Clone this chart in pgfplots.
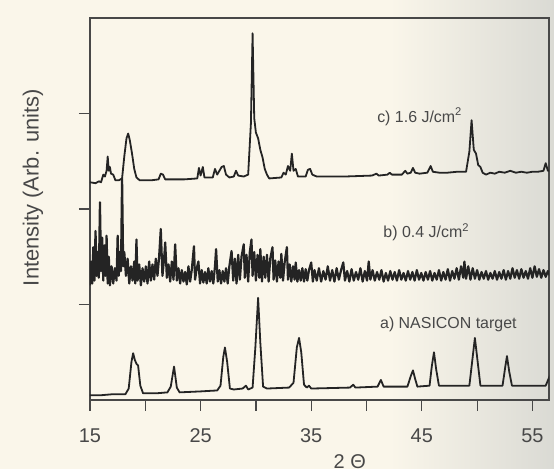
\documentclass[border=0pt]{standalone}
\usepackage{pgfplots}
\pgfplotsset{compat=1.18}
\usepackage{pgfplotstable}
\usepackage{fontspec}
\setmainfont{Liberation Sans}

\definecolor{paper}{RGB}{250,246,234}
\definecolor{paperedge}{RGB}{218,218,212}
\definecolor{trace}{RGB}{36,36,36}
\definecolor{ink}{RGB}{72,72,72}

% a) NASICON target
\pgfplotstableread{
x y
15.0 0.05
16.0 0.05
17.0 0.06
18.2 0.06
18.5 0.12
18.75 0.40
18.9 0.49
19.05 0.42
19.2 0.38
19.35 0.36
19.55 0.15
19.8 0.07
21.0 0.07
22.0 0.08
22.3 0.14
22.6 0.35
22.85 0.13
23.1 0.08
25.0 0.09
26.5 0.10
26.8 0.15
27.05 0.45
27.2 0.55
27.4 0.40
27.65 0.12
28.0 0.11
28.8 0.12
29.1 0.15
29.3 0.11
29.7 0.13
29.95 0.55
30.2 1.07
30.4 0.60
30.65 0.14
31.0 0.12
33.0 0.13
33.4 0.18
33.7 0.55
33.9 0.65
34.1 0.50
34.35 0.16
34.6 0.13
34.8 0.15
35.0 0.12
38.5 0.13
38.8 0.16
39.0 0.13
41.0 0.14
41.3 0.21
41.55 0.14
43.7 0.14
44.0 0.25
44.2 0.31
44.4 0.22
44.6 0.14
45.7 0.15
45.9 0.35
46.1 0.50
46.3 0.32
46.55 0.15
49.3 0.15
49.6 0.45
49.8 0.65
50.0 0.45
50.3 0.15
52.3 0.15
52.55 0.35
52.7 0.46
52.9 0.30
53.15 0.15
56.2 0.15
56.6 0.26
57.0 0.30
}\targetdata

% b) 0.4 J/cm2
\pgfplotstableread{
x y
15.0 1.20
15.1 1.45
15.2 1.22
15.3 1.60
15.4 1.25
15.5 1.77
15.6 1.30
15.7 1.55
15.8 1.28
15.9 2.07
16.0 1.35
16.1 1.70
16.2 1.25
16.3 1.62
16.4 1.30
16.5 1.72
16.6 1.22
16.7 1.50
16.8 1.20
16.95 1.40
17.1 1.22
17.25 1.38
17.4 1.25
17.5 1.72
17.6 1.30
17.7 1.55
17.8 1.35
17.9 2.32
18.0 1.40
18.1 1.55
18.25 1.30
18.4 1.48
18.55 1.22
18.7 1.40
18.85 1.25
19.0 1.45
19.1 1.22
19.2 1.68
19.3 1.25
19.45 1.42
19.6 1.20
19.75 1.38
19.9 1.24
20.05 1.40
20.2 1.22
20.35 1.45
20.5 1.25
20.65 1.42
20.8 1.26
20.95 1.48
21.1 1.30
21.25 1.50
21.4 1.79
21.55 1.30
21.7 1.48
21.8 1.65
21.95 1.28
22.1 1.42
22.25 1.24
22.4 1.45
22.55 1.26
22.7 1.63
22.85 1.25
23.0 1.38
23.15 1.22
23.3 1.36
23.45 1.24
23.6 1.34
23.75 1.21
23.9 1.40
24.05 1.24
24.2 1.36
24.4 1.61
24.5 1.26
24.65 1.38
24.8 1.45
24.95 1.22
25.1 1.36
25.25 1.23
25.4 1.34
25.55 1.22
25.7 1.38
25.85 1.24
26.0 1.35
26.15 1.22
26.3 1.40
26.4 1.58
26.55 1.24
26.7 1.36
26.85 1.22
27.0 1.35
27.15 1.24
27.3 1.38
27.45 1.22
27.6 1.40
27.8 1.56
27.95 1.25
28.1 1.48
28.25 1.22
28.4 1.52
28.55 1.26
28.7 1.50
28.9 1.63
29.0 1.28
29.15 1.52
29.3 1.24
29.45 1.55
29.6 1.68
29.7 1.30
29.85 1.55
30.0 1.25
30.15 1.52
30.3 1.28
30.4 1.58
30.55 1.24
30.7 1.50
30.85 1.28
31.0 1.52
31.15 1.24
31.3 1.48
31.5 1.60
31.6 1.26
31.75 1.46
31.9 1.24
32.05 1.45
32.2 1.28
32.3 1.53
32.45 1.25
32.6 1.44
32.8 1.60
32.9 1.26
33.05 1.42
33.2 1.24
33.35 1.40
33.5 1.26
33.6 1.44
33.75 1.24
33.9 1.36
34.05 1.25
34.2 1.38
34.35 1.24
34.5 1.37
34.65 1.25
34.8 1.36
35.0 1.44
35.15 1.24
35.3 1.36
35.5 1.25
35.7 1.38
35.9 1.24
36.1 1.35
36.3 1.26
36.5 1.40
36.7 1.25
36.9 1.36
37.1 1.24
37.3 1.38
37.5 1.26
37.7 1.36
37.9 1.44
38.05 1.25
38.25 1.35
38.45 1.24
38.65 1.37
38.85 1.25
39.05 1.34
39.25 1.26
39.45 1.38
39.65 1.24
39.85 1.35
40.05 1.25
40.2 1.45
40.35 1.26
40.55 1.36
40.75 1.25
40.95 1.34
41.15 1.26
41.35 1.36
41.55 1.24
41.75 1.33
41.95 1.25
42.15 1.35
42.35 1.26
42.55 1.34
42.75 1.25
42.95 1.36
43.15 1.26
43.35 1.33
43.55 1.25
43.75 1.35
43.95 1.26
44.15 1.34
44.35 1.25
44.55 1.36
44.75 1.26
44.95 1.33
45.15 1.25
45.35 1.34
45.55 1.26
45.75 1.35
45.95 1.25
46.15 1.33
46.35 1.26
46.55 1.36
46.75 1.25
46.95 1.34
47.15 1.26
47.35 1.37
47.55 1.25
47.75 1.35
47.95 1.27
48.15 1.38
48.35 1.26
48.55 1.40
48.75 1.28
48.85 1.45
49.0 1.27
49.2 1.40
49.4 1.26
49.6 1.38
49.8 1.27
50.0 1.36
50.2 1.26
50.4 1.34
50.6 1.27
50.8 1.35
51.0 1.26
51.2 1.33
51.4 1.27
51.6 1.35
51.8 1.26
52.0 1.34
52.2 1.27
52.4 1.36
52.6 1.26
52.8 1.35
53.0 1.27
53.2 1.38
53.4 1.28
53.6 1.36
53.8 1.27
54.0 1.37
54.2 1.28
54.4 1.35
54.6 1.27
54.8 1.38
55.0 1.28
55.2 1.40
55.4 1.29
55.6 1.37
55.8 1.28
56.0 1.36
56.2 1.29
56.4 1.35
56.6 1.30
}\lowfluence

% c) 1.6 J/cm2
\pgfplotstableread{
x y
15.0 2.28
15.5 2.27
15.8 2.29
16.0 2.28
16.2 2.36
16.35 2.34
16.5 2.40
16.6 2.55
16.7 2.40
16.8 2.44
16.9 2.37
17.1 2.36
17.3 2.30
17.6 2.30
17.9 2.32
18.1 2.55
18.3 2.74
18.45 2.79
18.6 2.72
18.8 2.58
19.0 2.42
19.2 2.33
19.5 2.30
20.5 2.30
21.2 2.31
21.4 2.37
21.6 2.36
21.8 2.31
23.5 2.31
24.7 2.32
24.85 2.43
25.0 2.35
25.2 2.44
25.35 2.33
26.1 2.33
26.3 2.42
26.5 2.36
26.7 2.40
26.9 2.44
27.1 2.45
27.3 2.36
27.6 2.33
28.0 2.34
28.2 2.40
28.4 2.35
28.9 2.34
29.3 2.36
29.55 2.90
29.7 3.84
29.85 2.95
30.0 2.80
30.2 2.74
30.4 2.62
30.6 2.54
30.8 2.42
31.0 2.36
31.2 2.32
32.3 2.33
32.5 2.38
32.7 2.36
32.9 2.45
33.1 2.40
33.25 2.58
33.4 2.40
33.6 2.42
33.8 2.34
34.5 2.34
34.7 2.41
34.9 2.42
35.1 2.36
35.5 2.34
38.0 2.34
40.5 2.35
40.9 2.37
41.1 2.35
41.9 2.36
42.1 2.38
42.3 2.36
43.2 2.36
43.5 2.40
43.7 2.37
44.0 2.38
44.2 2.43
44.4 2.38
44.8 2.37
45.5 2.38
45.8 2.45
46.0 2.39
46.6 2.38
47.3 2.38
48.2 2.39
49.0 2.39
49.3 2.60
49.5 2.93
49.7 2.62
49.9 2.58
50.1 2.46
50.3 2.44
50.5 2.38
50.8 2.36
51.2 2.38
51.6 2.37
52.0 2.39
52.5 2.38
53.0 2.40
53.5 2.38
54.0 2.39
54.5 2.38
55.0 2.39
55.5 2.39
56.0 2.40
56.2 2.48
56.4 2.40
56.6 2.40
}\highfluence

\begin{document}
\begin{tikzpicture}
% scanned page background
\fill[paper] (-90bp,-69bp) rectangle (300bp,400bp);
\shade[left color=paper, right color=paperedge] (300bp,-69bp) rectangle (464bp,400bp);
\begin{axis}[
    at={(0,0)}, anchor=south west,
    scale only axis,
    width=459bp, height=382bp,
    xmin=15, xmax=56.5,
    ymin=0, ymax=4,
    axis line style={ink, line width=1.2bp},
    tick style={ink, line width=1.2bp},
    tick align=outside,
    major tick length=11bp,
    xtick pos=bottom, ytick pos=left,
    xtick={15,20,...,55},
    xticklabels={15,,25,,35,,45,,55},
    ytick={1,2,3},
    yticklabels={},
    /pgf/number format/assume math mode=true,
    ticklabel style={font=\fontsize{20}{22}\selectfont, text=ink},
    xticklabel shift=14bp,
    xlabel={2 Θ},
    ylabel={Intensity (Arb. units)},
    every axis x label/.style={at={(axis description cs:0.566,0)}, anchor=center,
        yshift=-62bp, font=\fontsize{20}{22}\selectfont, text=ink},
    every axis y label/.style={at={(axis description cs:0,0.556)}, anchor=center,
        xshift=-57bp, rotate=90, font=\fontsize{22}{24}\selectfont, text=ink},
  ]
\addplot[trace, no markers, line width=1.8bp, line join=round] table {\targetdata};
\addplot[trace, no markers, line width=2.2bp, line join=round] table {\lowfluence};
\addplot[trace, no markers, line width=1.8bp, line join=round] table {\highfluence};
\node[anchor=base, font=\fontsize{16}{18}\selectfont, text=ink] at (axis cs:44.8,2.91) {c) 1.6 J/cm\textsuperscript{2}};
\node[anchor=base, font=\fontsize{16}{18}\selectfont, text=ink] at (axis cs:45.4,1.70) {b) 0.4 J/cm\textsuperscript{2}};
\node[anchor=base, font=\fontsize{16}{18}\selectfont, text=ink] at (axis cs:47.4,0.75) {a) NASICON target};
\end{axis}
\end{tikzpicture}
\end{document}
